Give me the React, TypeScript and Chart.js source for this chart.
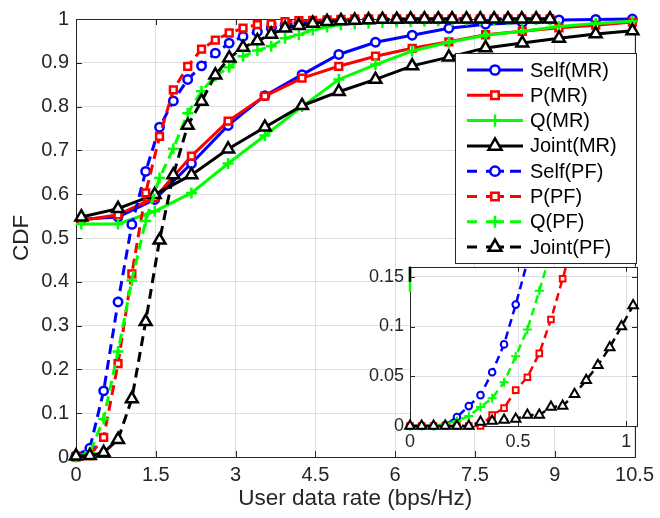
import React, { useEffect, useRef } from "react";
import { Chart, registerables } from "chart.js";

Chart.register(...registerables);

const FONT = '"Liberation Sans", Arial, Helvetica, sans-serif';
const AXIS = "#262626";
const GRID = "#dfdfdf";

// ---------- tick labels ----------
const xTicks = [0, 1.5, 3, 4.5, 6, 7.5, 9, 10.5];
const xTickLabels = ["0", "1.5", "3", "4.5", "6", "7.5", "9", "10.5"];
const yTicks = [0, 0.1, 0.2, 0.3, 0.4, 0.5, 0.6, 0.7, 0.8, 0.9, 1];
const yTickLabels = ["0", "0.1", "0.2", "0.3", "0.4", "0.5", "0.6", "0.7", "0.8", "0.9", "1"];
const insetXTicks = [0, 0.5, 1];
const insetXTickLabels = ["0", "0.5", "1"];
const insetYTicks = [0, 0.05, 0.1, 0.15];
const insetYTickLabels = ["0", "0.05", "0.1", "0.15"];

const seriesNames = ["Self(MR)", "P(MR)", "Q(MR)", "Joint(MR)", "Self(PF)", "P(PF)", "Q(PF)", "Joint(PF)"];

// ---------- main plot data ----------
const mrX = [0.10, 0.79, 1.48, 2.17, 2.86, 3.55, 4.25, 4.94, 5.63, 6.32, 7.01, 7.70, 8.39, 9.08, 9.77, 10.46];
const selfMR = [0.543, 0.548, 0.588, 0.670, 0.757, 0.825, 0.873, 0.919, 0.947, 0.963, 0.979, 0.988, 0.992, 0.998, 0.999, 1.0];
const pMR = [0.540, 0.553, 0.592, 0.687, 0.767, 0.824, 0.865, 0.892, 0.915, 0.933, 0.948, 0.964, 0.972, 0.980, 0.986, 0.993];
const qMR = [0.532, 0.532, 0.561, 0.603, 0.670, 0.734, 0.800, 0.862, 0.896, 0.927, 0.947, 0.963, 0.972, 0.983, 0.990, 0.995];
const jointMR = [0.548, 0.567, 0.599, 0.644, 0.703, 0.753, 0.802, 0.834, 0.862, 0.893, 0.913, 0.934, 0.945, 0.956, 0.966, 0.973];

const pfX = [0, 0.26, 0.52, 0.79, 1.05, 1.31, 1.57, 1.83, 2.10, 2.36, 2.62, 2.88, 3.14, 3.41, 3.67, 3.93, 4.19, 4.45,
  4.72, 4.98, 5.24, 5.50, 5.76, 6.03, 6.29, 6.55, 6.81, 7.07, 7.34, 7.60, 7.86, 8.12, 8.38, 8.65, 8.91];
const selfPF = [0.003, 0.02, 0.151, 0.354, 0.531, 0.652, 0.753, 0.813, 0.862, 0.893, 0.922, 0.945, 0.960, 0.971, 0.979, 0.986, 0.990, 0.993,
  0.995, 0.997, 0.998, 0.999, 1, 1, 1, 1, 1, 1, 1, 1, 1, 1, 1, 1, 1];
const pPF = [0.0, 0.003, 0.045, 0.213, 0.418, 0.603, 0.732, 0.838, 0.892, 0.931, 0.952, 0.968, 0.979, 0.987, 0.989, 0.994, 0.996, 0.997,
  0.998, 0.999, 1, 1, 1, 1, 1, 1, 1, 1, 1, 1, 1, 1, 1, 1, 1];
const qPF = [0.0, 0.01, 0.087, 0.241, 0.403, 0.539, 0.637, 0.704, 0.785, 0.835, 0.870, 0.890, 0.915, 0.928, 0.938, 0.956, 0.964, 0.975,
  0.982, 0.987, 0.989, 0.991, 0.992, 0.993, 0.994, 0.995, 0.996, 0.996, 0.997, 0.997, 0.998, 0.998, 0.999, 0.999, 0.999];
const jointPF = [0.002, 0.003, 0.01, 0.04, 0.133, 0.309, 0.495, 0.644, 0.757, 0.812, 0.872, 0.911, 0.935, 0.950, 0.965, 0.979, 0.985, 0.990,
  0.994, 0.996, 0.997, 0.998, 0.999, 0.999, 1, 1, 1, 1, 1, 1, 1, 1, 1, 1, 1];

// ---------- inset data ----------
const insetX = [0, 0.054, 0.109, 0.163, 0.217, 0.272, 0.326, 0.380, 0.435, 0.489, 0.543, 0.598, 0.652, 0.706, 0.761, 0.815, 0.869, 0.924, 0.978, 1.032];
const selfIn = [0, 0, 0, 0.001, 0.009, 0.020, 0.031, 0.054, 0.082, 0.122, 0.165, 0.21];
const pIn = [0, 0, 0, 0, 0, 0, 0, 0.011, 0.018, 0.036, 0.049, 0.073, 0.107, 0.148, 0.19];
const qIn = [0, 0, 0, 0.002, 0.005, 0.010, 0.019, 0.028, 0.044, 0.070, 0.097, 0.136, 0.175];
const jointIn = [0, 0, 0, 0, 0, 0, 0.004, 0.005, 0.006, 0.007, 0.011, 0.011, 0.019, 0.020, 0.032, 0.046, 0.061, 0.079, 0.100, 0.121];
const insetMRX = [0, 0];
const insetQMR = [0.135, 0.532];
const insetJointMR = [0.145, 0.548];

// ---------- styles ----------
const colors = ["#0000ff", "#ff0000", "#00ff00", "#000000", "#0000ff", "#ff0000", "#00ff00", "#000000"];
const markers = ["circle", "rect", "cross", "triangle", "circle", "rect", "cross", "triangle"];
const mainRadius: Record<string, number> = { circle: 4.2, rect: 4.8, cross: 5.5, triangle: 6.8 };
const insetRadius: Record<string, number> = { circle: 3.3, rect: 4, cross: 4.5, triangle: 5.5 };

function toPts(xs: number[], ys: number[]) {
  return ys.map((y, i) => ({ x: xs[i], y }));
}

function drawMarker(ctx: CanvasRenderingContext2D, style: string, x: number, y: number, r: number, color: string, lw: number) {
  ctx.save();
  ctx.setLineDash([]);
  ctx.strokeStyle = color;
  ctx.fillStyle = "#ffffff";
  ctx.lineWidth = lw;
  ctx.beginPath();
  if (style === "circle") {
    ctx.arc(x, y, r, 0, Math.PI * 2);
    ctx.fill();
    ctx.stroke();
  } else if (style === "rect") {
    const s = r * Math.SQRT1_2;
    ctx.rect(x - s, y - s, 2 * s, 2 * s);
    ctx.fill();
    ctx.stroke();
  } else if (style === "triangle") {
    ctx.moveTo(x, y - r);
    ctx.lineTo(x + r * 0.866, y + r * 0.5);
    ctx.lineTo(x - r * 0.866, y + r * 0.5);
    ctx.closePath();
    ctx.fill();
    ctx.stroke();
  } else {
    ctx.moveTo(x, y - r);
    ctx.lineTo(x, y + r);
    ctx.moveTo(x - r, y);
    ctx.lineTo(x + r, y);
    ctx.stroke();
  }
  ctx.restore();
}

function makeDs(i: number, xs: number[], ys: number[], radius: Record<string, number>, lineW: number, markW: number) {
  const dashed = i >= 4;
  return {
    label: seriesNames[i],
    data: toPts(xs, ys),
    showLine: true,
    borderColor: colors[i],
    backgroundColor: colors[i],
    borderWidth: lineW,
    borderDash: dashed ? [10, 6] : [],
    pointStyle: markers[i],
    pointRadius: radius[markers[i]],
    pointBorderWidth: markW,
    pointBorderColor: colors[i],
    pointBackgroundColor: "#ffffff",
    tension: 0,
    order: 20 - i,
  };
}

function framePlugin(tickLen: number, whiteBg: boolean, legend: boolean) {
  return {
    id: "frame",
    beforeDraw(chart: any) {
      if (!whiteBg) return;
      const a = chart.chartArea;
      const ctx = chart.ctx;
      ctx.save();
      ctx.fillStyle = "#ffffff";
      ctx.fillRect(a.left, a.top, a.right - a.left, a.bottom - a.top);
      ctx.restore();
    },
    beforeDatasetsDraw(chart: any) {
      const { ctx, chartArea: a, scales } = chart;
      ctx.save();
      ctx.strokeStyle = AXIS;
      ctx.lineWidth = 1;
      ctx.setLineDash([]);
      ctx.beginPath();
      for (const t of scales.x.ticks) {
        const p = Math.round(scales.x.getPixelForValue(t.value)) + 0.5;
        ctx.moveTo(p, a.bottom);
        ctx.lineTo(p, a.bottom - tickLen);
        ctx.moveTo(p, a.top);
        ctx.lineTo(p, a.top + tickLen);
      }
      for (const t of scales.y.ticks) {
        const p = Math.round(scales.y.getPixelForValue(t.value)) + 0.5;
        ctx.moveTo(a.left, p);
        ctx.lineTo(a.left + tickLen, p);
        ctx.moveTo(a.right, p);
        ctx.lineTo(a.right - tickLen, p);
      }
      ctx.stroke();
      ctx.strokeRect(Math.round(a.left) + 0.5, Math.round(a.top) + 0.5, Math.round(a.right - a.left), Math.round(a.bottom - a.top));
      ctx.restore();
    },
    afterDraw(chart: any) {
      if (!legend) return;
      const ctx: CanvasRenderingContext2D = chart.ctx;
      const box = { left: 455, top: 53, right: 636, bottom: 263 };
      ctx.save();
      ctx.fillStyle = "#ffffff";
      ctx.fillRect(box.left, box.top, box.right - box.left, box.bottom - box.top);
      ctx.strokeStyle = AXIS;
      ctx.lineWidth = 1;
      ctx.strokeRect(box.left + 0.5, box.top + 0.5, box.right - box.left, box.bottom - box.top);
      const x0 = 467, x1 = 523, mx = 495, tx = 530;
      chart.data.datasets.forEach((ds: any, i: number) => {
        if (i > 7) return;
        const y = 70 + i * 25.3;
        ctx.strokeStyle = ds.borderColor;
        ctx.lineWidth = 3;
        ctx.setLineDash([]);
        ctx.beginPath();
        if (i < 4) {
          ctx.moveTo(x0, y);
          ctx.lineTo(x1, y);
        } else {
          ctx.moveTo(x0, y); ctx.lineTo(x0 + 10, y);
          ctx.moveTo(x0 + 19, y); ctx.lineTo(x0 + 37, y);
          ctx.moveTo(x0 + 43, y); ctx.lineTo(x0 + 54, y);
        }
        ctx.stroke();
        drawMarker(ctx, ds.pointStyle, mx, y, ds.pointRadius * 1.1, ds.borderColor, 2.5);
        ctx.fillStyle = "#000000";
        ctx.font = `20px ${FONT}`;
        ctx.textAlign = "left";
        ctx.textBaseline = "middle";
        ctx.fillText(ds.label, tx, y + 1);
      });
      ctx.restore();
    },
  };
}

function fmt(ticks: number[], labels: string[]) {
  return (v: any) => {
    const idx = ticks.findIndex((t) => Math.abs(t - Number(v)) < 1e-9);
    return idx >= 0 ? labels[idx] : "";
  };
}

export default function App() {
  const mainRef = useRef<HTMLCanvasElement | null>(null);
  const insetRef = useRef<HTMLCanvasElement | null>(null);

  useEffect(() => {
    const mainData = [
      makeDs(0, mrX, selfMR, mainRadius, 3, 2.5),
      makeDs(1, mrX, pMR, mainRadius, 3, 2.5),
      makeDs(2, mrX, qMR, mainRadius, 3, 2.5),
      makeDs(3, mrX, jointMR, mainRadius, 3, 2.5),
      makeDs(4, pfX, selfPF, mainRadius, 3, 2.5),
      makeDs(5, pfX, pPF, mainRadius, 3, 2.5),
      makeDs(6, pfX, qPF, mainRadius, 3, 2.5),
      makeDs(7, pfX, jointPF, mainRadius, 3, 2.5),
    ].map((d) => ({ ...d, clip: false }));

    const main = new Chart(mainRef.current as HTMLCanvasElement, {
      type: "scatter",
      data: { datasets: mainData as any },
      plugins: [framePlugin(6, false, true)],
      options: {
        responsive: false,
        animation: false,
        devicePixelRatio: 1,
        layout: { padding: { left: 0, top: 14, right: 22, bottom: 0 } },
        plugins: { legend: { display: false }, tooltip: { enabled: false } },
        scales: {
          x: {
            type: "linear",
            min: 0,
            max: 10.5,
            afterFit: (s: any) => { s.height = 61; },
            afterBuildTicks: (s: any) => { s.ticks = xTicks.map((v) => ({ value: v })); },
            ticks: { callback: fmt(xTicks, xTickLabels), font: { family: FONT, size: 20 }, color: AXIS, padding: 6, maxRotation: 0, autoSkip: false },
            grid: { color: GRID, drawTicks: false },
            border: { display: false },
            title: { display: true, text: "User data rate (bps/Hz)", font: { family: FONT, size: 22.5 }, color: AXIS, padding: { top: 0, bottom: 6 } },
          },
          y: {
            type: "linear",
            min: 0,
            max: 1,
            afterFit: (s: any) => { s.width = 76; },
            afterBuildTicks: (s: any) => { s.ticks = yTicks.map((v) => ({ value: v })); },
            ticks: { callback: fmt(yTicks, yTickLabels), font: { family: FONT, size: 20 }, color: AXIS, padding: 7, autoSkip: false },
            grid: { color: GRID, drawTicks: false },
            border: { display: false },
            title: { display: true, text: "CDF", font: { family: FONT, size: 22.5 }, color: AXIS, padding: { top: 8, bottom: 0 } },
          },
        },
      } as any,
    });

    const insetData = [
      { ...makeDs(2, insetMRX, insetQMR, insetRadius, 2.5, 2), pointRadius: 0 },
      { ...makeDs(3, insetMRX, insetJointMR, insetRadius, 2.5, 2), pointRadius: 0 },
      makeDs(4, insetX, selfIn, insetRadius, 2.5, 2),
      makeDs(5, insetX, pIn, insetRadius, 2.5, 2),
      makeDs(6, insetX, qIn, insetRadius, 2.5, 2),
      makeDs(7, insetX, jointIn, insetRadius, 2.5, 2),
    ].map((d) => ({ ...d, borderDash: d.label.includes("PF") ? [8, 5] : [], clip: { left: 10, right: 10, top: 0, bottom: 10 } }));

    const inset = new Chart(insetRef.current as HTMLCanvasElement, {
      type: "scatter",
      data: { datasets: insetData as any },
      plugins: [framePlugin(5, true, false)],
      options: {
        responsive: false,
        animation: false,
        devicePixelRatio: 1,
        layout: { padding: { left: 0, top: 16.5, right: 13, bottom: 0 } },
        plugins: { legend: { display: false }, tooltip: { enabled: false } },
        scales: {
          x: {
            type: "linear",
            min: 0,
            max: 1.05,
            afterFit: (s: any) => { s.height = 34; },
            afterBuildTicks: (s: any) => { s.ticks = insetXTicks.map((v) => ({ value: v })); },
            ticks: { callback: fmt(insetXTicks, insetXTickLabels), font: { family: FONT, size: 18 }, color: AXIS, padding: 5, maxRotation: 0, autoSkip: false },
            grid: { color: GRID, drawTicks: false },
            border: { display: false },
          },
          y: {
            type: "linear",
            min: 0,
            max: 0.16,
            afterFit: (s: any) => { s.width = 80; },
            afterBuildTicks: (s: any) => { s.ticks = insetYTicks.map((v) => ({ value: v })); },
            ticks: { callback: fmt(insetYTicks, insetYTickLabels), font: { family: FONT, size: 18 }, color: AXIS, padding: 6, autoSkip: false },
            grid: { color: GRID, drawTicks: false },
            border: { display: false },
          },
        },
      } as any,
    });

    return () => {
      main.destroy();
      inset.destroy();
    };
  }, []);

  return (
    <div style={{ position: "fixed", left: 0, top: 0, width: 660, height: 518, background: "#ffffff" }}>
      <canvas ref={mainRef} width={660} height={518} style={{ position: "absolute", left: 0, top: 0 }} />
      <canvas ref={insetRef} width={320} height={210} style={{ position: "absolute", left: 330, top: 250 }} />
    </div>
  );
}
